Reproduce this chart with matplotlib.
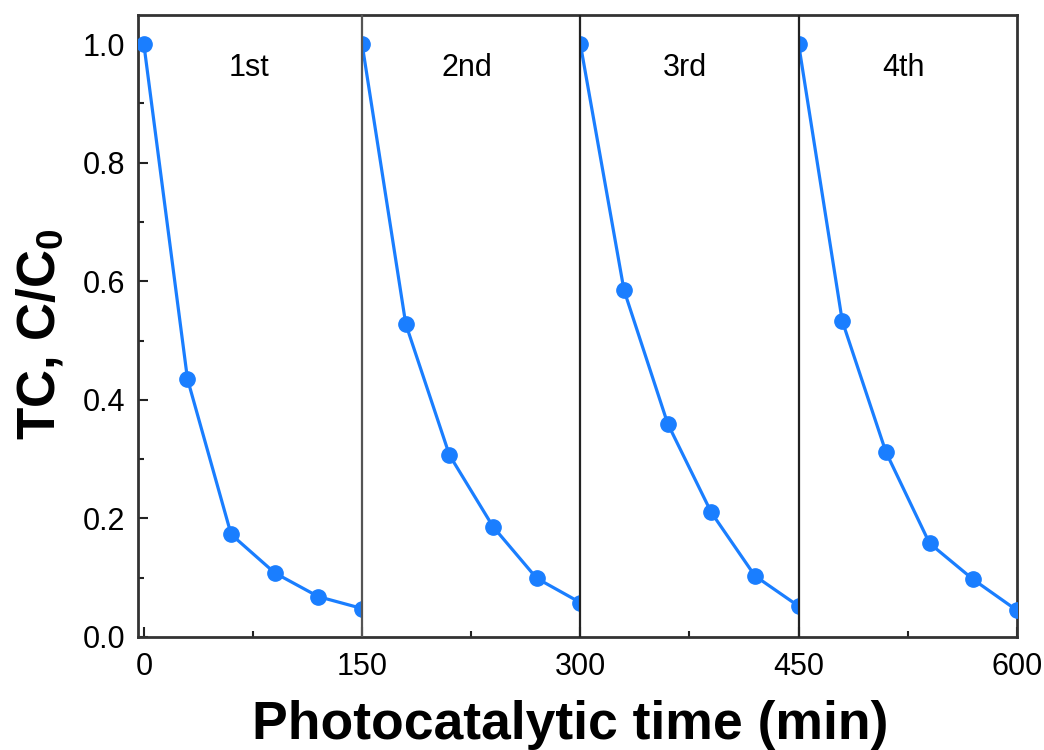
import matplotlib.pyplot as plt
from matplotlib.ticker import MultipleLocator, FormatStrFormatter
from matplotlib.transforms import Bbox, TransformedBbox, blended_transform_factory

plt.rcParams["font.family"] = ["Liberation Sans", "DejaVu Sans"]
plt.rcParams["mathtext.fontset"] = "custom"
plt.rcParams["mathtext.bf"] = "Liberation Sans:bold"
plt.rcParams["mathtext.rm"] = "Liberation Sans"

# 四个循环的时间点和 C/C0
cycle_labels = ["1st", "2nd", "3rd", "4th"]
times = [
    [0, 30, 60, 90, 120, 150],
    [150, 180, 210, 240, 270, 300],
    [300, 330, 360, 390, 420, 450],
    [450, 480, 510, 540, 570, 600],
]
ratios = [
    [1.0, 0.435, 0.173, 0.108, 0.068, 0.048],
    [1.0, 0.528, 0.307, 0.186, 0.099, 0.058],
    [1.0, 0.585, 0.360, 0.210, 0.103, 0.052],
    [1.0, 0.533, 0.312, 0.158, 0.097, 0.045],
]
boundaries = [150, 300, 450]

color = "#1A7EFF"
xmin, xmax = -4, 600

fig = plt.figure(figsize=(10.44, 7.5), dpi=100)
ax = fig.add_axes([0.1322, 0.1507, 0.8418, 0.8293])
ax.set_xlim(xmin, xmax)
ax.set_ylim(0, 1.049)

# 每个循环只在自己的区间内显示（边界处的点被截成半圆）
trans = blended_transform_factory(ax.transData, ax.transAxes)
for i, (t, r) in enumerate(zip(times, ratios)):
    line, = ax.plot(t, r, color=color, lw=2.3, marker="o", ms=11, zorder=3)
    left = xmin if i == 0 else t[0]
    line.set_clip_box(TransformedBbox(Bbox([[left, 0], [t[-1], 1]]), trans))

for b, c in zip(boundaries, ["#555555", "#222222", "#222222"]):
    ax.axvline(b, color=c, lw=1.6, zorder=4)

for i, lab in enumerate(cycle_labels):
    ax.text(times[i][0] + 72, 0.96, lab, ha="center", va="center", fontsize=22)

ax.set_xticks([0, 150, 300, 450, 600])
ax.xaxis.set_minor_locator(MultipleLocator(75))
ax.yaxis.set_major_locator(MultipleLocator(0.2))
ax.yaxis.set_minor_locator(MultipleLocator(0.1))
ax.yaxis.set_major_formatter(FormatStrFormatter("%.1f"))

ax.tick_params(which="both", direction="in", labelsize=22, color="#222222")
ax.tick_params(which="major", length=7, width=1.5)
ax.tick_params(axis="x", which="major", pad=11)
ax.tick_params(axis="y", which="major", pad=9)
ax.tick_params(which="minor", length=4, width=1.5)
for s in ax.spines.values():
    s.set_linewidth(2)
    s.set_color("#333333")

ax.set_xlabel("Photocatalytic time (min)", fontsize=38.5, fontweight="bold", labelpad=13)
ax.xaxis.label.set_x(0.492)
ax.set_ylabel("TC, C/C$_\\mathbf{0}$", fontsize=38, fontweight="bold", labelpad=12)
ax.yaxis.label.set_y(0.487)

plt.savefig("out.png", dpi=100)
